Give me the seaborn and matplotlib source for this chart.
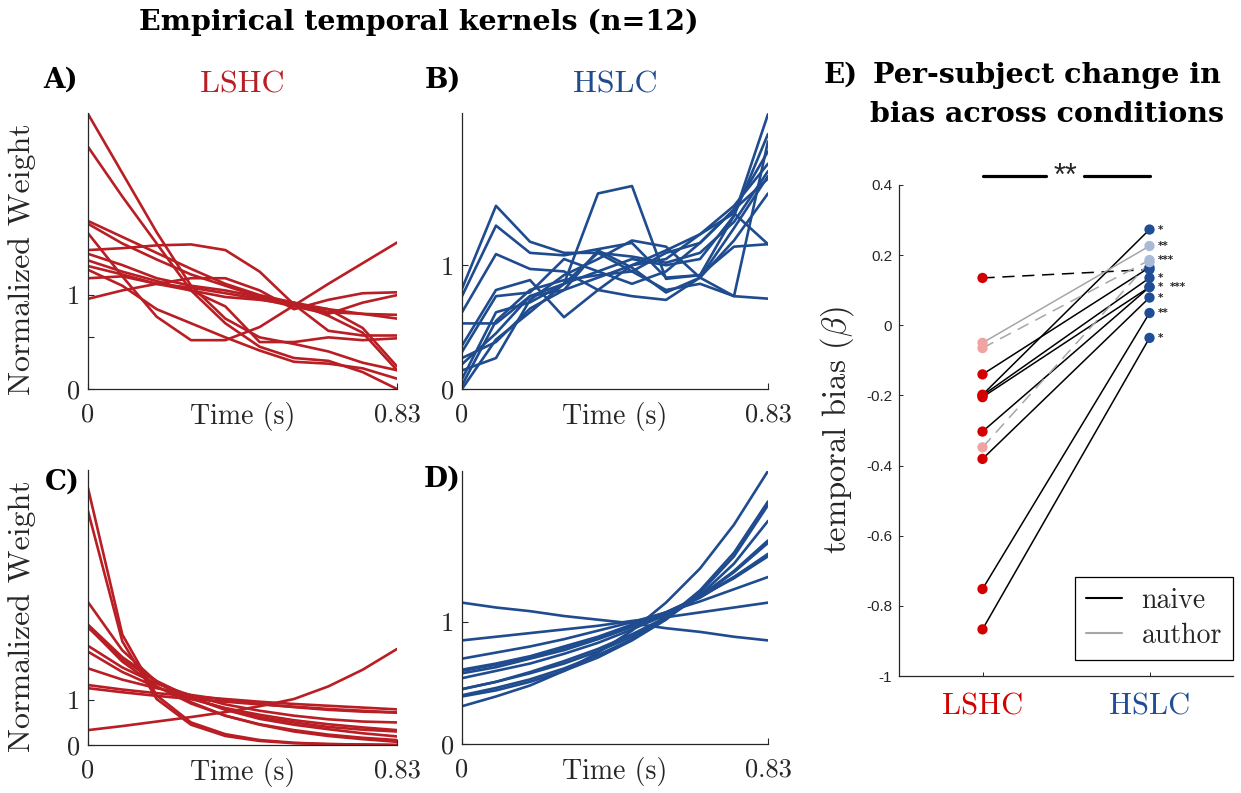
import numpy as np
import pandas as pd
import matplotlib
matplotlib.use('Agg')
import matplotlib.pyplot as plt
from matplotlib.lines import Line2D
import seaborn as sns

# time samples of the kernels (10 frames)
time_s = [0, 0.0922, 0.1844, 0.2767, 0.3689, 0.4611, 0.5533, 0.6456, 0.7378, 0.83]

# A) empirical kernels, LSHC
kern_a = [
    [2.93, 2.30, 1.67, 1.10, 0.75, 0.55, 0.48, 0.40, 0.28, 0.20],
    [2.58, 2.05, 1.55, 1.05, 0.70, 0.45, 0.33, 0.30, 0.18, 0.00],
    [1.79, 1.62, 1.45, 1.28, 1.12, 1.00, 0.92, 0.85, 0.65, 0.24],
    [1.76, 1.55, 1.38, 1.22, 1.10, 0.98, 0.90, 0.82, 0.80, 0.79],
    [1.66, 1.20, 0.77, 0.52, 0.52, 0.66, 0.89, 1.12, 1.34, 1.56],
    [1.48, 1.50, 1.53, 1.54, 1.48, 1.25, 0.90, 0.62, 0.57, 0.57],
    [1.44, 1.32, 1.18, 1.10, 1.05, 0.98, 0.92, 0.78, 0.60, 0.20],
    [1.37, 1.25, 1.15, 1.05, 0.98, 0.95, 0.90, 0.85, 0.80, 0.75],
    [1.31, 1.22, 1.12, 1.18, 1.18, 1.05, 0.85, 0.95, 1.02, 1.03],
    [1.27, 1.10, 0.85, 0.70, 0.55, 0.41, 0.29, 0.27, 0.22, 0.11],
    [1.18, 1.20, 1.12, 1.05, 0.88, 0.50, 0.50, 0.55, 0.52, 0.54],
    [0.96, 1.05, 1.12, 1.08, 1.02, 0.96, 0.88, 0.80, 0.92, 1.00],
]

# B) empirical kernels, HSLC
kern_b = [
    [0.81, 1.48, 1.19, 1.10, 1.10, 1.07, 1.02, 1.10, 1.35, 1.76],
    [0.75, 1.32, 1.10, 1.08, 1.13, 1.18, 0.90, 0.92, 1.40, 2.06],
    [0.62, 1.09, 0.97, 0.95, 0.80, 0.75, 0.72, 0.90, 1.20, 1.58],
    [0.53, 0.53, 0.75, 0.85, 1.58, 1.64, 0.89, 0.92, 1.15, 1.17],
    [0.35, 0.80, 0.88, 0.58, 0.80, 1.00, 1.05, 1.25, 1.42, 1.17],
    [0.30, 0.75, 0.78, 1.05, 0.95, 0.85, 0.95, 1.18, 1.45, 1.92],
    [0.25, 0.38, 0.65, 0.80, 0.90, 1.00, 1.12, 1.25, 1.48, 1.82],
    [0.20, 0.45, 0.75, 0.80, 1.12, 0.98, 0.78, 0.90, 1.30, 1.72],
    [0.15, 0.25, 0.72, 0.92, 1.05, 1.20, 1.15, 0.90, 0.75, 2.00],
    [0.08, 0.62, 0.70, 0.85, 0.95, 1.05, 1.00, 1.05, 1.40, 2.22],
    [0.03, 0.55, 0.80, 0.88, 0.92, 0.95, 1.10, 1.18, 1.45, 1.70],
    [0.00, 0.40, 0.62, 0.85, 1.10, 0.95, 0.80, 0.85, 0.75, 0.73],
]

# C) fitted kernels, LSHC
kern_c = [
    [5.70, 2.45, 1.10, 0.50, 0.24, 0.11, 0.05, 0.02, 0.01, 0.00],
    [5.19, 2.30, 1.02, 0.45, 0.20, 0.09, 0.04, 0.02, 0.01, 0.00],
    [3.17, 2.10, 1.40, 0.95, 0.65, 0.45, 0.30, 0.20, 0.13, 0.07],
    [2.67, 1.95, 1.42, 1.05, 0.78, 0.58, 0.45, 0.35, 0.26, 0.19],
    [2.62, 1.85, 1.30, 0.92, 0.65, 0.46, 0.33, 0.23, 0.16, 0.11],
    [2.61, 1.90, 1.40, 1.05, 0.80, 0.62, 0.50, 0.40, 0.34, 0.30],
    [2.20, 1.72, 1.36, 1.10, 0.90, 0.76, 0.65, 0.57, 0.52, 0.50],
    [2.07, 1.62, 1.28, 1.02, 0.82, 0.67, 0.55, 0.46, 0.39, 0.33],
    [1.70, 1.45, 1.26, 1.11, 1.00, 0.91, 0.84, 0.78, 0.74, 0.72],
    [1.33, 1.23, 1.15, 1.08, 1.02, 0.96, 0.91, 0.87, 0.83, 0.79],
    [1.26, 1.17, 1.09, 1.02, 0.96, 0.90, 0.85, 0.80, 0.76, 0.72],
    [0.33, 0.42, 0.52, 0.62, 0.73, 0.86, 1.02, 1.30, 1.67, 2.13],
]

# D) fitted kernels, HSLC
kern_d = [
    [1.16, 1.12, 1.09, 1.05, 1.02, 0.99, 0.95, 0.92, 0.88, 0.85],
    [0.85, 0.88, 0.91, 0.94, 0.97, 1.01, 1.04, 1.08, 1.12, 1.16],
    [0.70, 0.75, 0.80, 0.86, 0.93, 1.00, 1.08, 1.17, 1.27, 1.37],
    [0.61, 0.66, 0.72, 0.80, 0.88, 0.98, 1.08, 1.21, 1.36, 1.54],
    [0.60, 0.65, 0.71, 0.79, 0.87, 0.97, 1.08, 1.21, 1.37, 1.55],
    [0.58, 0.63, 0.70, 0.77, 0.86, 0.96, 1.07, 1.20, 1.37, 1.56],
    [0.54, 0.60, 0.66, 0.74, 0.83, 0.94, 1.06, 1.21, 1.41, 1.65],
    [0.45, 0.51, 0.59, 0.68, 0.78, 0.90, 1.04, 1.21, 1.42, 1.67],
    [0.45, 0.51, 0.58, 0.66, 0.76, 0.88, 1.03, 1.22, 1.48, 1.83],
    [0.39, 0.44, 0.51, 0.60, 0.71, 0.85, 1.02, 1.24, 1.54, 1.96],
    [0.40, 0.46, 0.53, 0.62, 0.73, 0.86, 1.03, 1.26, 1.57, 1.99],
    [0.31, 0.39, 0.48, 0.60, 0.75, 0.93, 1.16, 1.44, 1.80, 2.24],
]

# E) per-subject temporal bias
bias_lshc = [0.135, -0.14, -0.198, -0.20, -0.205, -0.303, -0.381, -0.752, -0.867, -0.05, -0.065, -0.348]
bias_hslc = [0.159, 0.165, 0.273, 0.135, 0.109, 0.109, 0.079, 0.035, -0.036, 0.226, 0.186, 0.18]
group = ['naive'] * 9 + ['author'] * 3
dashed = [True, False, False, False, False, False, False, False, False, False, True, True]

star_y = [0.273, 0.226, 0.186, 0.135, 0.109, 0.079, 0.035, -0.036]
star_txt = ['*', '**', '***', '*', '*', '*', '**', '*']
extra_star_y = 0.109
extra_star_txt = '***'

e_yticks = [-1, -0.8, -0.6, -0.4, -0.2, 0, 0.2, 0.4]
e_ylabels = ['-1', '-0.8', '-0.6', '-0.4', '-0.2', '0', '0.2', '0.4']

sns.set_style('ticks')
plt.rcParams['font.family'] = ['cmr10', 'DejaVu Serif']
plt.rcParams['mathtext.fontset'] = 'cm'
plt.rcParams['axes.unicode_minus'] = False

RED = '#b81e23'
BLUE = '#1f4b8f'
PT_RED = '#d40000'
PT_PINK = '#f0a3a3'
PT_BLUE = '#1f4e96'
PT_LBLUE = '#a9bad6'
AX = '#262626'
BOLD = dict(fontfamily='DejaVu Serif', fontweight='bold', color='black')

W, H = 1241, 793
fig = plt.figure(figsize=(W / 100, H / 100), dpi=100)


def kernel_panel(rect, kernels, color, ylim, yticks, ylabels, ylabel=None):
    ax = fig.add_axes(rect)
    rows = [(s, t, w) for s, k in enumerate(kernels) for t, w in zip(time_s, k)]
    df = pd.DataFrame(rows, columns=['subject', 'time', 'weight'])
    sns.lineplot(data=df, x='time', y='weight', units='subject', estimator=None,
                 color=color, lw=1.9, ax=ax)
    ax.set_xlim(0, 0.83)
    ax.set_ylim(*ylim)
    ax.set_xticks([0, 0.83])
    ax.set_xticklabels(['0', '0.83'])
    ax.set_yticks(yticks)
    ax.set_yticklabels(ylabels)
    sns.despine(ax=ax)
    for sp in ['left', 'bottom']:
        ax.spines[sp].set_color(AX)
        ax.spines[sp].set_linewidth(0.9)
    ax.tick_params(direction='in', length=4, width=0.8, color=AX, labelcolor=AX,
                   labelsize=19)
    ax.tick_params(axis='x', pad=10)
    ax.tick_params(axis='y', pad=6)
    ax.set_xlabel('Time (s)', fontsize=20, color=AX, va='top')
    ax.xaxis.set_label_coords(0.5, -0.048)
    if ylabel:
        ax.set_ylabel(ylabel, fontsize=23, color=AX, va='bottom')
        ax.yaxis.set_label_coords(-0.168, 0.47)
    else:
        ax.set_ylabel('')
    return ax


ax_a = kernel_panel([88 / W, 1 - 389 / H, 309 / W, 276 / H], kern_a, RED,
                    (0, 2.94), [0, 0.55, 1], ['0', '', '1'], 'Normalized Weight')
ax_b = kernel_panel([462 / W, 1 - 389 / H, 306 / W, 276 / H], kern_b, BLUE,
                    (0, 2.23), [0, 1], ['0', '1'])
ax_c = kernel_panel([88 / W, 1 - 745 / H, 309 / W, 275 / H], kern_c, RED,
                    (0, 6.1), [0, 1], ['0', '1'], 'Normalized Weight')
ax_d = kernel_panel([462 / W, 1 - 744 / H, 306 / W, 273 / H], kern_d, BLUE,
                    (0, 2.24), [0, 1], ['0', '1'])

ax_a.set_title('LSHC', color=RED, fontsize=23, pad=15)
ax_b.set_title('HSLC', color=BLUE, fontsize=23, pad=15)

# panel E
ax_e = fig.add_axes([899 / W, 1 - 676 / H, 334 / W, 491 / H])
for lo, hi, g, d in zip(bias_lshc, bias_hslc, group, dashed):
    col = 'black' if g == 'naive' else '#a6a6a6'
    ls = (0, (8, 5)) if d else '-'
    ax_e.plot([1, 2], [lo, hi], color=col, lw=1.1, ls=ls, zorder=2)

pts = pd.DataFrame({
    'cond': [1] * len(bias_lshc) + [2] * len(bias_hslc),
    'bias': bias_lshc + bias_hslc,
    'kind': [('L-' + g) for g in group] + [('H-' + g) for g in group],
})
sns.scatterplot(data=pts, x='cond', y='bias', hue='kind',
                palette={'L-naive': PT_RED, 'L-author': PT_PINK,
                         'H-naive': PT_BLUE, 'H-author': PT_LBLUE},
                s=55, edgecolor='none', legend=False, zorder=3, ax=ax_e)

for y, t in zip(star_y, star_txt):
    ax_e.text(2.05, y, t, fontsize=7.5, fontfamily='DejaVu Sans', fontweight='bold',
              va='center', ha='left')
ax_e.text(2.12, extra_star_y, extra_star_txt, fontsize=7.5, fontfamily='DejaVu Sans',
          fontweight='bold', va='center', ha='left')

# significance bar
ax_e.plot([1, 1.38], [0.427, 0.427], color='black', lw=2.3, clip_on=False)
ax_e.plot([1.61, 2], [0.427, 0.427], color='black', lw=2.3, clip_on=False)
ax_e.text(1.495, 0.424, '**', fontsize=22, fontfamily='Liberation Sans', ha='center',
          va='center', clip_on=False)

ax_e.set_xlim(0.5, 2.5)
ax_e.set_ylim(-1, 0.4)
ax_e.set_yticks(e_yticks)
ax_e.set_yticklabels(e_ylabels, fontfamily='Liberation Sans', fontsize=11, color=AX)
ax_e.set_xticks([1, 2])
ax_e.set_xticklabels(['LSHC', 'HSLC'], fontsize=22)
ax_e.get_xticklabels()[0].set_color(PT_RED)
ax_e.get_xticklabels()[1].set_color(PT_BLUE)
sns.despine(ax=ax_e)
for sp in ['left', 'bottom']:
    ax_e.spines[sp].set_color(AX)
    ax_e.spines[sp].set_linewidth(0.9)
ax_e.tick_params(direction='in', length=3, width=0.7, color=AX)
ax_e.tick_params(axis='x', pad=12)
ax_e.tick_params(axis='y', pad=5)
ax_e.set_xlabel('')
ax_e.set_ylabel(r'temporal bias ($\beta$)', fontsize=23.5, va='bottom')
ax_e.yaxis.set_label_coords(-0.13, 0.5)

handles = [Line2D([], [], color='black', lw=1.5), Line2D([], [], color='#a6a6a6', lw=1.5)]
leg = ax_e.legend(handles, ['naive', 'author'], loc='lower right',
                  bbox_to_anchor=(1.0, 0.033), borderaxespad=0, fontsize=20,
                  handlelength=1.3, handletextpad=0.7, fancybox=False,
                  framealpha=1, edgecolor='black', borderpad=0.4, labelspacing=0.3)
leg.get_frame().set_linewidth(0.9)

# figure texts
fig.text(419 / W, 1 - 22 / H, 'Empirical temporal kernels (n=12)', fontsize=20.5,
         ha='center', va='center', **BOLD)
for lab, x, y in [('A)', 61, 80), ('B)', 443, 80), ('C)', 62, 482), ('D)', 442, 479),
                  ('E)', 841, 75)]:
    fig.text(x / W, 1 - y / H, lab, fontsize=20, ha='center', va='center', **BOLD)
fig.text(1047 / W, 1 - 95 / H, 'Per-subject change in\nbias across conditions',
         fontsize=20.5, ha='center', va='center', linespacing=1.55, **BOLD)

fig.savefig('out.png', dpi=100)
